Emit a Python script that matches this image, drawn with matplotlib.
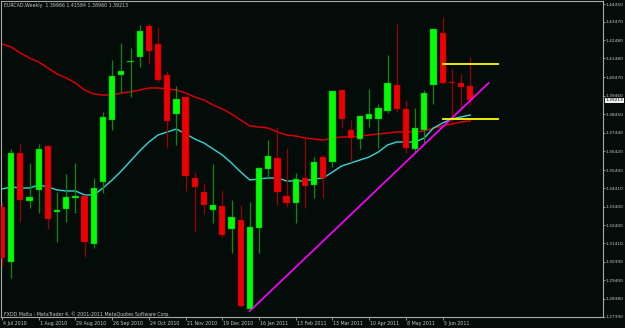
import matplotlib
matplotlib.use('Agg')
import matplotlib.pyplot as plt
from matplotlib.patches import Rectangle
import matplotlib.transforms as mtransforms

# ---- data (EURCAD weekly, 4 Jul 2010 - 26 Jun 2011) ----
opens = [1.33387, 1.30389, 1.36330, 1.33714, 1.34313, 1.36711, 1.33114, 1.33278, 1.33877, 1.33986,
         1.31370, 1.34749, 1.38128, 1.40581, 1.41289, 1.41562, 1.43251, 1.42270, 1.40581, 1.38455,
         1.39382, 1.34967, 1.34204, 1.33223, 1.33441, 1.32188, 1.32678, 1.27828, 1.32242, 1.35458,
         1.36057, 1.33986, 1.33605, 1.34967, 1.34586, 1.36112, 1.35839, 1.39763, 1.37583, 1.37093,
         1.38183, 1.38183, 1.38619, 1.40036, 1.38728, 1.36548, 1.37583, 1.40036, 1.42870, 1.40199,
         1.40145, 1.39966]
highs = [1.33659, 1.36548, 1.36875, 1.35785, 1.36820, 1.36766, 1.34204, 1.35185, 1.35785, 1.34041,
         1.34967, 1.38564, 1.41398, 1.42325, 1.42052, 1.43306, 1.43415, 1.43197, 1.40799, 1.39981,
         1.39436, 1.35294, 1.34695, 1.35730, 1.34313, 1.33768, 1.33496, 1.33659, 1.35567, 1.37038,
         1.37747, 1.36602, 1.35240, 1.37147, 1.36112, 1.36221, 1.39709, 1.39818, 1.38128, 1.38401,
         1.39818, 1.39000, 1.41671, 1.43360, 1.39218, 1.38782, 1.39763, 1.43088, 1.43742, 1.40908,
         1.40635, 1.41584]
lows = [1.30116, 1.29517, 1.32569, 1.33332, 1.33060, 1.32188, 1.31479, 1.32569, 1.33060, 1.30660,
        1.31152, 1.34150, 1.37583, 1.39600, 1.39382, 1.41017, 1.41180, 1.40199, 1.36602, 1.36766,
        1.34259, 1.32024, 1.33005, 1.32515, 1.31752, 1.30883, 1.27937, 1.27773, 1.30883, 1.34913,
        1.33496, 1.33387, 1.32515, 1.33332, 1.33877, 1.33877, 1.35567, 1.37692, 1.35839, 1.36548,
        1.37747, 1.36602, 1.38510, 1.38564, 1.36330, 1.36384, 1.36875, 1.39000, 1.40090, 1.37910,
        1.38673, 1.38960]
closes = [1.30608, 1.36330, 1.33768, 1.33932, 1.36548, 1.32733, 1.33223, 1.33932, 1.33986, 1.31479,
          1.34422, 1.38292, 1.40526, 1.40799, 1.41344, 1.42979, 1.41889, 1.40308, 1.38074, 1.39273,
          1.35076, 1.34477, 1.33496, 1.33496, 1.31861, 1.32842, 1.27991, 1.32297, 1.35512, 1.36166,
          1.34204, 1.33605, 1.34913, 1.34531, 1.35839, 1.34967, 1.39709, 1.38183, 1.37147, 1.38346,
          1.38455, 1.38782, 1.40145, 1.38728, 1.36602, 1.37692, 1.39600, 1.43088, 1.40145, 1.40145,
          1.39927, 1.39213]
ma_slow = [1.42270, 1.42106, 1.41780, 1.41507, 1.41289, 1.40962, 1.40635, 1.40417, 1.40145, 1.39763,
           1.39545, 1.39491, 1.39491, 1.39600, 1.39654, 1.39763, 1.39872, 1.39872, 1.39818, 1.39763,
           1.39600, 1.39382, 1.39218, 1.38946, 1.38728, 1.38455, 1.38128, 1.37801, 1.37747, 1.37692,
           1.37474, 1.37311, 1.37256, 1.37147, 1.37093, 1.37038, 1.37147, 1.37202, 1.37202, 1.37256,
           1.37311, 1.37365, 1.37420, 1.37474, 1.37474, 1.37474, 1.37529, 1.37692, 1.37801, 1.37910,
           1.38019, 1.38074]
ma_fast = [1.34368, 1.34477, 1.34422, 1.34422, 1.34586, 1.34477, 1.34313, 1.34259, 1.34259, 1.34041,
           1.34041, 1.34422, 1.34858, 1.35349, 1.35894, 1.36439, 1.36929, 1.37311, 1.37474, 1.37638,
           1.37365, 1.37093, 1.36875, 1.36548, 1.36221, 1.35785, 1.35294, 1.34858, 1.34913, 1.34967,
           1.34967, 1.34804, 1.34804, 1.34804, 1.34913, 1.34967, 1.35294, 1.35621, 1.35785, 1.35948,
           1.36112, 1.36384, 1.36766, 1.36929, 1.36929, 1.36929, 1.37147, 1.37692, 1.37965, 1.38183,
           1.38292, 1.38401]
date_labels = ['4 Jul 2010', '1 Aug 2010', '29 Aug 2010', '26 Sep 2010', '24 Oct 2010',
               '21 Nov 2010', '19 Dec 2010', '16 Jan 2011', '13 Feb 2011', '13 Mar 2011',
               '10 Apr 2011', '8 May 2011', '5 Jun 2011']
date_bars = [0, 4, 8, 12, 16, 20, 24, 28, 32, 36, 40, 44, 48]
price_ticks = [1.44450, 1.43470, 1.42480, 1.41480, 1.40470, 1.39460, 1.38450, 1.37440, 1.36420,
               1.35400, 1.34410, 1.33400, 1.32400, 1.31410, 1.30390, 1.29400, 1.28380, 1.27390]
price_tick_labels = ['%.5f' % p for p in price_ticks]
trend_x = [27, 53]
trend_y = [1.2772, 1.4014]
level_prices = [1.4118, 1.3818]
level_x = [48, 54]
last_price = 1.39213
header = 'EURCAD,Weekly  1.39966 1.41584 1.38960 1.39213'
footer = 'FXDD Malta - MetaTrader 4, \u00a9 2001-2011 MetaQuotes Software Corp.'

# ---- style ----
bg = '#040c0a'
fg = '#c8c8c8'
frame = '#a8a8a8'
bull_body, bull_wick = '#00ff00', '#0a8a0a'
bear_body, bear_wick = '#ee0000', '#9a0000'
fs = 3.4
fs_y = 3.2

W, H = 625, 328
fig = plt.figure(figsize=(W / 100, H / 100), dpi=100, facecolor=bg)
ax = fig.add_axes([1 / W, 11 / H, 602 / W, 316 / H], facecolor=bg)
px_per_bar = 9.18
ax.set_xlim((1 - 2) / px_per_bar, (603 - 2) / px_per_bar)
ax.set_ylim(1.27392, 1.44614)

for s in ax.spines.values():
    s.set_color(frame)
    s.set_linewidth(0.8)

# moving averages
idx = list(range(len(closes)))
ax.plot(idx, ma_slow, color='#d80000', lw=1.1, zorder=2)
ax.plot(idx, ma_fast, color='#30d8d8', lw=1.0, zorder=2)

# candles
bw = 0.68
for i, (o, h, l, c) in enumerate(zip(opens, highs, lows, closes)):
    up = c >= o
    wick = bull_wick if up else bear_wick
    body = bull_body if up else bear_body
    ax.vlines(i, l, h, color=wick, lw=0.9, zorder=3)
    lo = min(o, c)
    hgt = max(abs(c - o), 0.0006)
    ax.add_patch(Rectangle((i - bw / 2, lo), bw, hgt, facecolor=body,
                           edgecolor=wick, lw=0.3, zorder=4))

# trend line and levels
ax.plot(trend_x, trend_y, color='#ff00ff', lw=1.2, zorder=5)
for p in level_prices:
    ax.plot(level_x, [p, p], color='#ffff00', lw=1.3, zorder=5)

# axes ticks
ax.yaxis.tick_right()
ax.set_yticks(price_ticks)
ax.set_yticklabels(price_tick_labels)
ax.tick_params(axis='y', colors=frame, labelcolor=fg, labelsize=fs_y, length=1.5, width=0.6, pad=0.6)
ax.set_xticks(date_bars)
ax.set_xticklabels(date_labels, ha='left')
ax.tick_params(axis='x', colors=frame, labelcolor=fg, labelsize=fs, length=2, width=0.6, pad=1)
for lab in ax.get_xticklabels():
    lab.set_transform(lab.get_transform() + mtransforms.ScaledTranslation(1 / 100, 0, fig.dpi_scale_trans))

# current price box
trans = mtransforms.blended_transform_factory(ax.transAxes, ax.transData)
ax.text(1.0 + 2.5 / 602, last_price, '%.5f' % last_price, transform=trans, fontsize=fs_y,
        color='black', va='center', ha='left', zorder=10, clip_on=False,
        bbox=dict(boxstyle='square,pad=0.12', facecolor='#f0f0f0', edgecolor='none'))

# header / footer
ax.text(3 / 602, 1 - 5 / 316, header, transform=ax.transAxes, fontsize=fs, color=fg,
        va='center', ha='left')
ax.text(3 / 602, 3 / 316, footer, transform=ax.transAxes, fontsize=fs, color=fg,
        va='center', ha='left')

fig.savefig('out.png', dpi=100, facecolor=bg)
